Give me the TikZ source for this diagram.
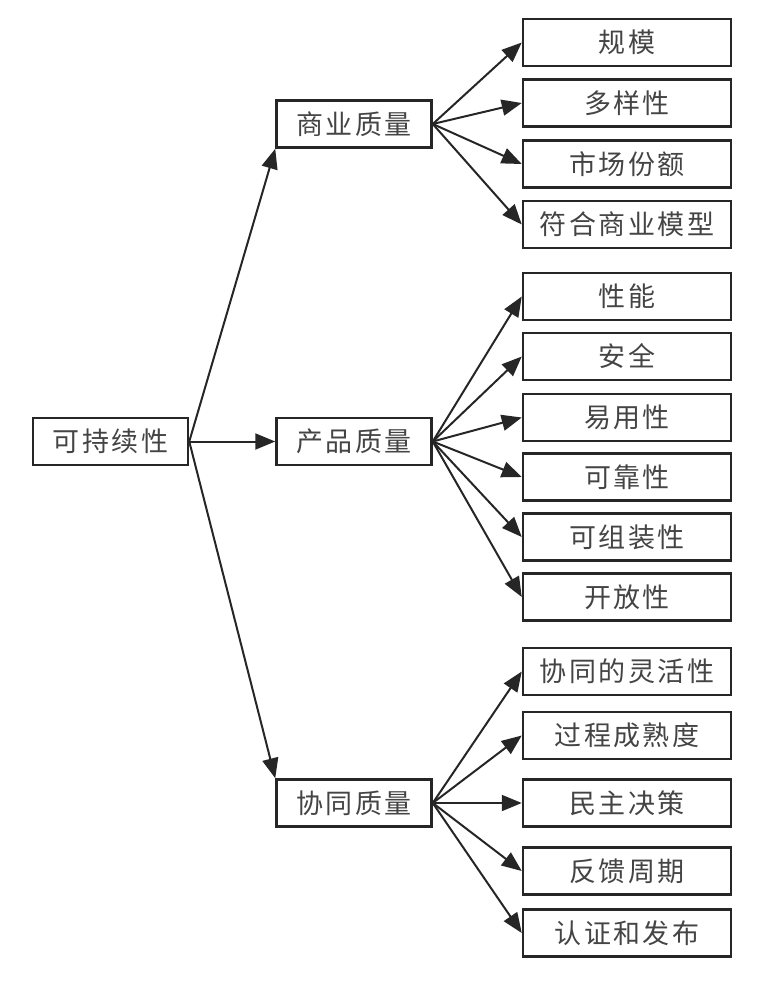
\documentclass[tikz,border=0pt]{standalone}
\usepackage{fontspec}
\newfontfamily\cjk[LetterSpace=9]{Noto Sans CJK SC}
\usetikzlibrary{arrows.meta}
\definecolor{boxline}{HTML}{262626}
\definecolor{labeltext}{HTML}{444444}

\begin{document}
\begin{tikzpicture}[x=1pt, y=-1pt, >={Triangle[length=20pt,width=16pt]},
    box/.style={draw=boxline, line width=2.5pt, minimum height=47pt, inner sep=0pt,
      font=\cjk\fontsize{27}{30}\selectfont, text=labeltext},
    mainbox/.style={box, minimum width=155pt},
    leafbox/.style={box, minimum width=208pt},
    link/.style={->, line width=2pt, draw=boxline, fill=boxline}]
    \useasboundingbox (0,0) rectangle (768,982);

    % Root
    \node[mainbox] (sust) at (110.5,441.5) {可持续性};

    % Three quality dimensions
    \node[mainbox] (biz)  at (354,124)   {商业质量};
    \node[mainbox] (prod) at (354,441.5) {产品质量};
    \node[mainbox] (coop) at (354,803)   {协同质量};

    \draw[link] (sust.east) -- (biz.south west);
    \draw[link] (sust.east) -- (prod.west);
    \draw[link] (sust.east) -- (coop.north west);

    % Business quality
    \node[leafbox] (scale)  at (627,42.5)  {规模};
    \node[leafbox] (varie)  at (627,103)   {多样性};
    \node[leafbox] (share)  at (627,164)   {市场份额};
    \node[leafbox] (model)  at (627,224.5) {符合商业模型};

    \draw[link] (biz.east) -- (scale.west);
    \draw[link] (biz.east) -- (varie.west);
    \draw[link] (biz.east) -- (share.west);
    \draw[link] (biz.east) -- (model.west);

    % Product quality
    \node[leafbox] (perf)   at (627,296.5) {性能};
    \node[leafbox] (safe)   at (627,356.5) {安全};
    \node[leafbox] (usab)   at (627,417.5) {易用性};
    \node[leafbox] (relia)  at (627,477)   {可靠性};
    \node[leafbox] (compo)  at (627,537)   {可组装性};
    \node[leafbox] (openn)  at (627,597)   {开放性};

    \draw[link] (prod.east) -- (perf.west);
    \draw[link] (prod.east) -- (safe.west);
    \draw[link] (prod.east) -- (usab.west);
    \draw[link] (prod.east) -- (relia.west);
    \draw[link] (prod.east) -- (compo.west);
    \draw[link] (prod.east) -- (openn.west);

    % Collaboration quality
    \node[leafbox] (flex)   at (627,671.5) {协同的灵活性};
    \node[leafbox] (matur)  at (627,735.5) {过程成熟度};
    \node[leafbox] (demo)   at (627,803)   {民主决策};
    \node[leafbox] (cycle)  at (627,871)   {反馈周期};
    \node[leafbox] (certi)  at (627,933)   {认证和发布};

    \draw[link] (coop.east) -- (flex.west);
    \draw[link] (coop.east) -- (matur.west);
    \draw[link] (coop.east) -- (demo.west);
    \draw[link] (coop.east) -- (cycle.west);
    \draw[link] (coop.east) -- (certi.west);
\end{tikzpicture}
\end{document}
